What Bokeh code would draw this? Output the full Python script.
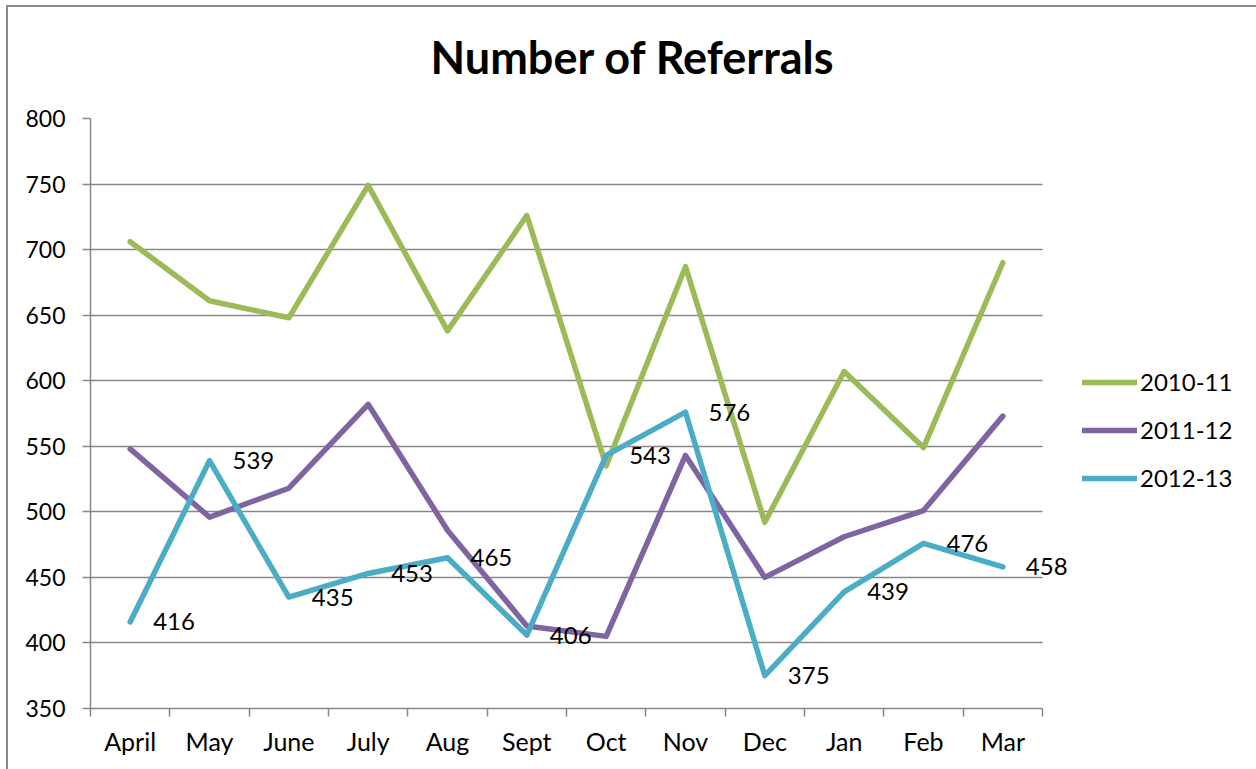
from bokeh.plotting import figure
from bokeh.layouts import column
from bokeh.models import (Range1d, LinearAxis, FixedTicker, Legend, LegendItem, Div)
from bokeh.core.properties import value
from bokeh.embed import file_html
from bokeh.resources import INLINE

months = ["April", "May", "June", "July", "Aug", "Sept", "Oct", "Nov", "Dec", "Jan", "Feb", "Mar"]
s2010_11 = [706, 661, 648, 749, 638, 726, 535, 687, 492, 607, 549, 690]
s2011_12 = [548, 496, 518, 582, 486, 413, 405, 543, 450, 481, 501, 573]
s2012_13 = [416, 539, 435, 453, 465, 406, 543, 576, 375, 439, 476, 458]
series_names = ["2010-11", "2011-12", "2012-13"]
y_ticks = [350, 400, 450, 500, 550, 600, 650, 700, 750, 800]
chart_title = "Number of Referrals"

FONT = "Lato"
GRAY = "#878787"
colors = ["#9BBB59", "#8064A2", "#4BACC6"]

n = len(months)
x_centers = [i + 0.5 for i in range(n)]          # category slots on a numeric scale
x_bounds = list(range(n + 1))                     # category boundaries
x_end = n * 1160 / 952                            # frame extends right to hold legend

title_div = Div(text=chart_title, width=1248, height=80, margin=0,
                styles={"font-family": FONT, "font-size": "45px", "font-weight": "bold",
                        "text-align": "center", "line-height": "100px", "color": "black",
                        "width": "1248px", "overflow": "visible"})

p = figure(width=1248, height=682, x_range=Range1d(0, x_end),
           y_range=Range1d(350, 800), output_backend="svg", toolbar_location=None,
           x_axis_location=None, min_border_left=82, min_border_right=6,
           min_border_top=31, min_border_bottom=61, margin=0)
p.outline_line_color = None
p.xgrid.grid_line_color = None
p.ygrid.ticker = FixedTicker(ticks=y_ticks)
try:
    p.ygrid.cross_bounds = (0, n)
    p.ygrid.grid_line_color = GRAY
    p.ygrid.grid_line_width = 1.5
except AttributeError:
    p.ygrid.grid_line_color = None
    p.segment(x0=0, x1=n, y0=y_ticks, y1=y_ticks, line_color=GRAY, line_width=1.5)

# y axis
ya = p.yaxis[0]
ya.ticker = FixedTicker(ticks=y_ticks)
ya.axis_line_color = GRAY
ya.axis_line_width = 1.5
ya.major_tick_line_color = GRAY
ya.major_tick_line_width = 1.5
ya.major_tick_out = 8
ya.major_tick_in = 0
ya.minor_tick_line_color = None
ya.major_label_text_font = FONT
ya.major_label_text_font_size = "23px"
ya.major_label_text_color = "black"
ya.major_label_standoff = 17

# x axis: boundary ticks + centred month labels
tick_axis = LinearAxis(ticker=FixedTicker(ticks=x_bounds), bounds=(0, n),
                       major_label_text_font_size="0px", major_label_text_color=None,
                       major_label_standoff=0,
                       axis_line_color=GRAY, axis_line_width=1.5,
                       major_tick_line_color=GRAY, major_tick_line_width=1.5,
                       major_tick_out=8, major_tick_in=0, minor_tick_line_color=None)
p.add_layout(tick_axis, "below")
label_axis = LinearAxis(ticker=FixedTicker(ticks=x_centers), bounds=(0, n),
                        major_label_overrides={c: m for c, m in zip(x_centers, months)},
                        axis_line_color=None, major_tick_line_color=None,
                        minor_tick_line_color=None, major_label_text_font=FONT,
                        major_label_text_font_size="25px", major_label_text_color="black",
                        major_label_standoff=3)
p.add_layout(label_axis, "below")

renderers = []
for name, vals, c in zip(series_names, [s2010_11, s2011_12, s2012_13], colors):
    r = p.line(x_centers, vals, line_color=c, line_width=5.5, line_join="round", line_cap="round")
    renderers.append((name, r))

p.text(x=x_centers, y=s2012_13, text=[str(v) for v in s2012_13], x_offset=23,
       text_align="left", text_baseline="middle", text_font=value(FONT),
       text_font_size="24px", text_color="black")

legend = Legend(items=[LegendItem(label=nm, renderers=[r]) for nm, r in renderers],
                location=(992, 216), glyph_width=55, glyph_height=20, spacing=19,
                label_text_font=FONT, label_text_font_size="24px", label_text_color="black",
                label_standoff=3, padding=0, margin=0, border_line_color=None,
                background_fill_alpha=0)
p.add_layout(legend)

layout = column(title_div, p, spacing=0, margin=0,
                styles={"margin-left": "6px", "margin-top": "5px",
                        "border-left": "2px solid #8a8a8a", "border-top": "2px solid #8a8a8a",
                        "border-right": "2px solid #8a8a8a"})

open("out.html", "w").write(file_html(layout, INLINE))
